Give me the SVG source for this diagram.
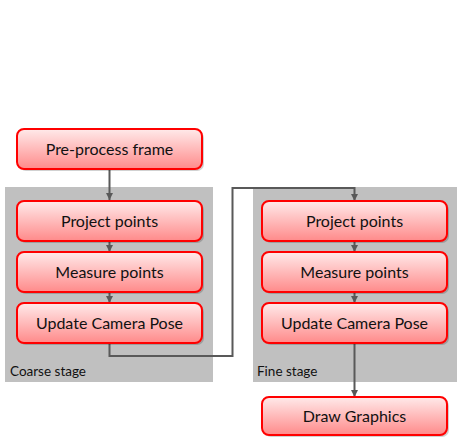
<svg xmlns="http://www.w3.org/2000/svg" width="457" height="437" viewBox="0 0 457 437">
  <defs>
    <linearGradient id="boxFill" x1="0" y1="0" x2="0" y2="1">
      <stop offset="0" stop-color="#ffeaea"/>
      <stop offset="1" stop-color="#ff8a8a"/>
    </linearGradient>
    <marker id="arrow" viewBox="0 0 10 10" refX="10" refY="5" markerWidth="7" markerHeight="7" markerUnits="userSpaceOnUse" orient="auto">
      <path d="M0,0 L10,5 L0,10 z" fill="#595959"/>
    </marker>
  </defs>
  <style>
    .panel { fill: #c0c0c0; }
    .shadow { fill: #000; opacity: 0.18; }
    .box { fill: url(#boxFill); stroke: #ff0000; stroke-width: 2; }
    .label { font-family: "Lato", "Liberation Sans", sans-serif; font-size: 16px; fill: #111; text-anchor: middle; }
    .stage { font-family: "Lato", "Liberation Sans", sans-serif; font-size: 13.5px; fill: #111; }
    .conn { fill: none; stroke: #595959; stroke-width: 2; marker-end: url(#arrow); }
  </style>

  <rect width="457" height="437" fill="#fff"/>

  <!-- stage panels -->
  <g id="coarse-stage">
    <rect class="panel" x="5" y="187" width="208" height="195"/>
    <text class="stage" x="10" y="376">Coarse stage</text>
  </g>
  <g id="fine-stage">
    <rect class="panel" x="253" y="187" width="204" height="195"/>
    <text class="stage" x="257" y="376">Fine stage</text>
  </g>

  <!-- connectors -->
  <g id="connectors">
    <path class="conn" d="M109.5,169 V200"/>
    <path class="conn" d="M109.5,241 V252"/>
    <path class="conn" d="M109.5,292 V303"/>
    <path class="conn" d="M109.5,343 V356 H232.5 V188 H354.5 V201"/>
    <path class="conn" d="M354.5,241 V252"/>
    <path class="conn" d="M354.5,292 V303"/>
    <path class="conn" d="M354.5,343 V397"/>
  </g>

  <g id="preprocess">
    <rect class="shadow" x="19" y="131" width="185" height="40" rx="7"/>
    <rect class="box" x="17" y="129" width="185" height="40" rx="7"/>
    <text class="label" x="109.5" y="155">Pre-process frame</text>
  </g>

  <g id="coarse-project">
    <rect class="shadow" x="19" y="203" width="185" height="40" rx="7"/>
    <rect class="box" x="17" y="201" width="185" height="40" rx="7"/>
    <text class="label" x="109.5" y="227">Project points</text>
  </g>
  <g id="coarse-measure">
    <rect class="shadow" x="19" y="254" width="185" height="40" rx="7"/>
    <rect class="box" x="17" y="252" width="185" height="40" rx="7"/>
    <text class="label" x="109.5" y="278">Measure points</text>
  </g>
  <g id="coarse-update">
    <rect class="shadow" x="19" y="305" width="185" height="40" rx="7"/>
    <rect class="box" x="17" y="303" width="185" height="40" rx="7"/>
    <text class="label" x="109.5" y="329">Update Camera Pose</text>
  </g>

  <g id="fine-project">
    <rect class="shadow" x="264" y="203" width="185" height="40" rx="7"/>
    <rect class="box" x="262" y="201" width="185" height="40" rx="7"/>
    <text class="label" x="354.5" y="227">Project points</text>
  </g>
  <g id="fine-measure">
    <rect class="shadow" x="264" y="254" width="185" height="40" rx="7"/>
    <rect class="box" x="262" y="252" width="185" height="40" rx="7"/>
    <text class="label" x="354.5" y="278">Measure points</text>
  </g>
  <g id="fine-update">
    <rect class="shadow" x="264" y="305" width="185" height="40" rx="7"/>
    <rect class="box" x="262" y="303" width="185" height="40" rx="7"/>
    <text class="label" x="354.5" y="329">Update Camera Pose</text>
  </g>

  <g id="draw-graphics">
    <rect class="shadow" x="264" y="399" width="185" height="38" rx="7"/>
    <rect class="box" x="262" y="397" width="185" height="38" rx="7"/>
    <text class="label" x="354.5" y="422">Draw Graphics</text>
  </g>
</svg>
